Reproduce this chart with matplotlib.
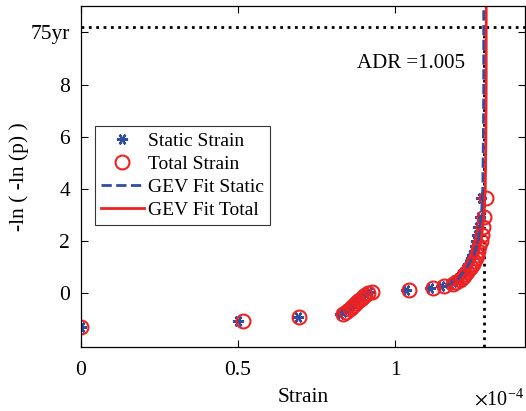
import numpy as np
import matplotlib
matplotlib.use('Agg')
import matplotlib.pyplot as plt

plt.rcParams['font.family'] = ['Liberation Serif', 'DejaVu Serif']
plt.rcParams['mathtext.fontset'] = 'stix'

# reduced variate -ln(-ln(p)) of the ranked points (same for both series)
y_rank = [-1.30, -1.09, -0.94, -0.82, -0.72, -0.63, -0.54, -0.46, -0.38, -0.31,
          -0.24, -0.17, -0.09, -0.02, 0.05, 0.12, 0.19, 0.26, 0.33, 0.40,
          0.48, 0.56, 0.64, 0.72, 0.81, 0.90, 1.00, 1.10, 1.22, 1.34,
          1.47, 1.62, 1.79, 1.99, 2.22, 2.53, 2.94, 3.65]

# strain values, in units of 1e-4
static_strain = [0.0, 0.500, 0.690, 0.825, 0.835, 0.845, 0.852, 0.860, 0.866, 0.873,
                 0.880, 0.887, 0.895, 0.905, 0.917, 1.035, 1.110, 1.145, 1.175, 1.183,
                 1.192, 1.199, 1.205, 1.211, 1.217, 1.222, 1.228, 1.233, 1.238, 1.242,
                 1.246, 1.250, 1.254, 1.258, 1.262, 1.265, 1.269, 1.275]
total_strain = [0.0, 0.515, 0.695, 0.835, 0.845, 0.855, 0.862, 0.870, 0.875, 0.882,
                0.890, 0.897, 0.905, 0.915, 0.927, 1.045, 1.120, 1.155, 1.185, 1.195,
                1.205, 1.212, 1.218, 1.224, 1.230, 1.236, 1.242, 1.247, 1.252, 1.256,
                1.260, 1.264, 1.268, 1.272, 1.276, 1.279, 1.283, 1.290]

# GEV fit curves
fit_y = [0.2, 0.5, 1.0, 1.5, 2.0, 3.0, 4.0, 6.0, 8.0, 11.2]
fit_static_x = [1.160, 1.200, 1.230, 1.252, 1.265, 1.275, 1.279, 1.281, 1.282, 1.282]
fit_total_x = [1.170, 1.210, 1.240, 1.262, 1.274, 1.283, 1.287, 1.289, 1.290, 1.290]

y_75yr = 10.22
x_75yr = 1.284
adr = 1.005

blue = '#2f4ea0'
red = '#ee2222'

fig = plt.figure(figsize=(5.26, 4.11), dpi=100)
ax = fig.add_axes([0.154, 0.156, 0.845, 0.829])

ax.plot([0, 1.42], [y_75yr, y_75yr], ':', color='black', lw=2)
ax.plot([x_75yr, x_75yr], [-2.1, y_75yr], ':', color='black', lw=2)

ax.plot(static_strain, y_rank, linestyle='none', marker=(6, 2, 90), ms=8,
        mec=blue, mew=1.6, label='Static Strain')
ax.plot(total_strain, y_rank, linestyle='none', marker='o', ms=10,
        mfc='none', mec=red, mew=1.5, label='Total Strain')
ax.plot(fit_static_x, fit_y, '--', color=blue, lw=2, label='GEV Fit Static')
ax.plot(fit_total_x, fit_y, '-', color=red, lw=2, label='GEV Fit Total')

ax.set_xlim(0, 1.415)
ax.set_ylim(-2.08, 11.04)
ax.set_xticks([0, 0.5, 1])
ax.set_xticklabels(['0', '0.5', '1'])
ax.set_yticks([0, 2, 4, 6, 8, 10.05])
ax.set_yticklabels(['0', '2', '4', '6', '8', '75yr'])
ax.tick_params(direction='in', top=True, right=True, labelsize=15.5, length=5, width=0.8)
ax.tick_params(axis='y', pad=8)
ax.tick_params(axis='x', pad=10)
for s in ax.spines.values():
    s.set_linewidth(0.9)

ax.set_xlabel('Strain', fontsize=15.5, labelpad=6)
ax.set_ylabel('-ln ( -ln (p) )', fontsize=15.5, labelpad=1)
ax.text(0.62, 0.818, 'ADR =%.3f' % adr, transform=ax.transAxes, fontsize=15)
fig.text(0.997, 0.015, r'$\times$10$^{\mathregular{-4}}$', fontsize=14.5, ha='right')

leg = ax.legend(loc='upper left', bbox_to_anchor=(0.032, 0.648), fontsize=14,
                frameon=True, fancybox=False, edgecolor='black', borderpad=0.3,
                labelspacing=0.28, handlelength=2.2, handletextpad=0.2,
                borderaxespad=0)
leg.get_frame().set_linewidth(0.8)

fig.savefig('out.png', dpi=100)
